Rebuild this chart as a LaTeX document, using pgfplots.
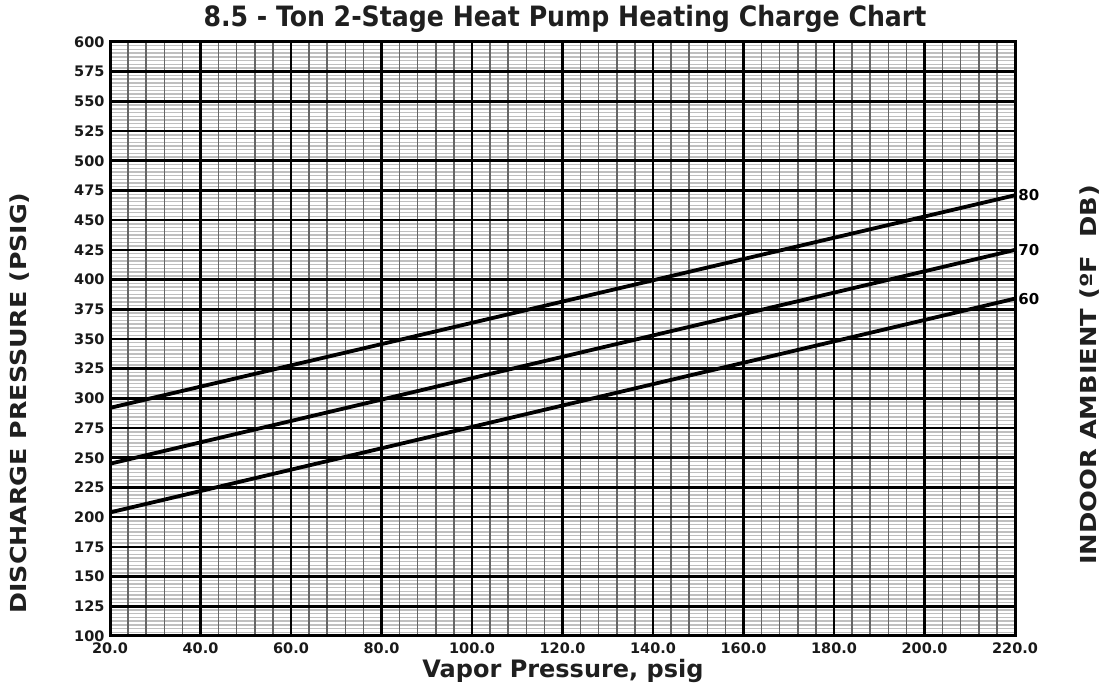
\documentclass[border=0pt]{standalone}
\usepackage{pgfplots}
\pgfplotsset{compat=1.18}
\usepackage{fontspec}
\setmainfont{DejaVu Sans}
\newfontfamily\condfont{DejaVu Sans Condensed}
\pgfplotsset{
  base/.style={
    at={(110pt,54pt)}, anchor=south west, scale only axis,
    width=905pt, height=594pt,
    xmin=20, xmax=220, ymin=100, ymax=600,
    xtick={20,40,...,220}, ytick={100,125,...,600},
    tick style={draw=none}, major tick length=0pt, minor tick length=0pt,
    axis line style={draw=none},
    clip=false,
  },
  nolabels/.style={xticklabels={}, yticklabels={}},
}
\begin{document}
\begin{tikzpicture}[x=1pt,y=1pt]
\path[use as bounding box] (0,0) rectangle (1110,690);
% layer 1: light horizontal minor lines
\begin{axis}[base, nolabels, minor y tick num=7, yminorgrids=true,
  minor y grid style={black!25, line width=1.4pt}]
\end{axis}
% layer 2: dark gray vertical minor lines
\begin{axis}[base, nolabels, minor x tick num=4, xminorgrids=true,
  minor x grid style={black!60, line width=1.5pt}]
\end{axis}
% layer 3: major grid, frame, data, labels
\begin{axis}[base,
  xmajorgrids=true, ymajorgrids=true,
  major grid style={black, line width=2.6pt},
  axis line style={draw=black, line width=3pt},
  /pgf/number format/assume math mode=true,
  tick label style={font=\bfseries\fontsize{14.5}{15}\selectfont, text=black!90},
  x tick label style={/pgf/number format/.cd, fixed, fixed zerofill, precision=1, /tikz/.cd, yshift=-3pt},
  y tick label style={xshift=-2pt},
]
\addplot[black, line width=3.8pt] coordinates {(20,292) (220,471)}
  node[pos=1, anchor=west, inner sep=1.5pt, font=\bfseries\fontsize{15}{15}\selectfont] {80};
\addplot[black, line width=3.8pt] coordinates {(20,245) (220,425)}
  node[pos=1, anchor=west, inner sep=1.5pt, font=\bfseries\fontsize{15}{15}\selectfont] {70};
\addplot[black, line width=3.8pt] coordinates {(20,204) (220,384)}
  node[pos=1, anchor=west, inner sep=1.5pt, font=\bfseries\fontsize{15}{15}\selectfont] {60};
\end{axis}
\node[font=\condfont\bfseries\fontsize{28}{30}\selectfont, text=black!88] at (565,671) {8.5 - Ton 2-Stage Heat Pump Heating Charge Chart};
\node[font=\bfseries\fontsize{24}{26}\selectfont, text=black!88] at (563,19) {Vapor Pressure, psig};
\node[rotate=90, font=\bfseries\fontsize{22}{24}\selectfont, text=black!88] at (20,287) {\scalebox{1.15}[1]{DISCHARGE PRESSURE (PSIG)}};
\node[rotate=90, font=\bfseries\fontsize{22}{24}\selectfont, text=black!88] at (1090,315) {\scalebox{1.17}[1]{INDOOR AMBIENT (ºF\ \ DB)}};
\end{tikzpicture}
\end{document}
